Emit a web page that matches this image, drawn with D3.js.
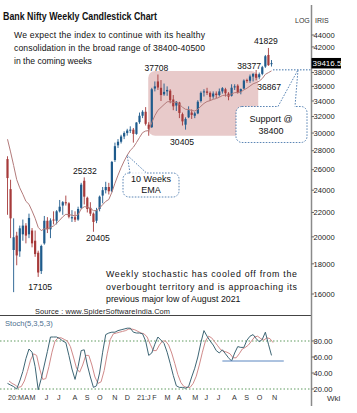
<!DOCTYPE html>
<html><head><meta charset="utf-8">
<script src="https://cdn.jsdelivr.net/npm/d3@7"></script>
<style>body{margin:0;background:#fff}svg{display:block;font-family:"Liberation Sans",Arial,sans-serif}</style>
</head><body>
<svg id="c" width="357" height="413"></svg>
<script>
// ---- data (weekly, Fridays from 13 Mar 2020 to 5 Nov 2021) ----
const openP = [27100,24100,19000,20100,18900,20200,20900,20200,20500,19700,18800,17500,19500,21300,20600,21400,21300,22100,22600,22900,22800,21500,21600,21400,22400,24900,23300,22400,21900,21300,22300,23500,24000,24300,23900,27000,28600,29000,29600,30000,30300,30400,29900,31300,32100,32600,31000,30700,35700,36700,35800,34900,35300,35400,34200,33400,33800,32300,31000,31900,32500,32100,32400,34000,35200,35300,35100,34600,35000,34800,35300,35600,35000,34700,35900,36100,35200,35700,36900,36800,37400,37800,37300,37800,38900,40700,39300];
const highP = [27400,25000,21500,20400,20900,21400,21100,21900,20700,20500,18950,19400,21700,21600,21500,22100,22200,23100,23000,23500,22900,22200,22100,22500,24700,25232,23400,22900,22000,22400,23500,24300,24800,24700,26900,28900,29300,29800,30200,30500,30800,30600,31300,32500,32800,33200,31300,35800,36700,37708,36900,36400,36000,35600,34800,34000,33900,32500,31900,33300,32900,32600,34100,35300,35600,35800,35300,35300,35300,35700,35900,35800,35200,36300,36300,36300,35700,37000,37100,37700,37900,38377,38000,39000,40700,41829,39900];
const lowP = [21800,19900,16116,17900,18500,19700,19500,19900,19200,18500,17105,17300,19400,20300,19900,21000,21000,22000,21800,22600,21500,21200,21200,21300,22300,22700,22000,21700,20405,21100,22100,22800,23700,23600,23800,26800,28300,28800,29300,29700,30000,28900,29800,31100,31800,30900,29687,30600,35300,35500,34000,34700,34700,33700,32800,32700,31800,30900,30405,31800,31700,31800,32300,33800,34600,34800,34000,34300,34400,34600,35000,34600,34100,34600,35500,35000,34900,35600,36500,36500,36700,36867,37000,37600,38700,39000,38900];
const closeP = [25166,21500,19970,18600,20680,20900,20100,21534,19500,18700,17400,19300,21300,20600,21330,21370,22100,22500,22900,22800,21640,21600,21390,22300,24523,23400,22300,21900,21200,22200,23400,24000,24300,23900,26800,28500,29000,29600,30000,30300,30400,29900,31260,32100,32600,31100,30500,35600,36000,35841,34800,35230,35500,34100,33300,33900,32450,31400,31700,32800,32200,32400,33900,35100,35300,35100,34560,35010,34800,35300,35750,35050,34580,35810,36000,35100,35620,36830,36770,37430,37800,37230,37750,38800,40500,39115,39416.5];
const stochK = [27,25,23,20,30,42,58,70,66,48,19,33,50,67,85,85,85,83,80,78,62,45,32,48,68,69,50,35,22,24,40,66,88,90,91,91,93,94,95,96,96,91,90,90,89,80,62,65,76,85,81,77,66,52,37,24,22,22,21,23,35,46,60,78,93,86,80,75,68,65,69,64,59,55,65,73,72,72,81,86,88,83,79,82,91,76,62];
const stochD = [30,27,25,22,23,30,42,56,64,62,45,32,33,48,66,80,84,84,82,80,73,60,46,41,50,62,62,50,35,27,29,43,64,82,89,90,91,92,93,95,95,94,92,90,89,85,76,68,68,75,80,80,75,65,52,38,28,23,22,22,27,36,50,66,80,86,84,79,74,69,67,66,64,59,59,64,70,72,75,80,85,86,83,81,84,83,78];
const priceTicks = [16000,18000,20000,22000,24000,26000,28000,30000,32000,34000,36000,38000,40000,42000,44000];
const stochTicks = [20,40,60,80];
const stochLevels = [20,80];
const emaSeed = 30200;           // 10-week EMA value before the first plotted week
const emaPeriod = 10;
const lastPrice = 39416.5;
const supportLevel = 38400;
const stochSupport = 55;
const zone = {fromWeek:46, toWeek:82, low:29687, high:38377};
const extremes = [
  {i:85, v:41829}, {i:49, v:37708}, {i:81, v:38377}, {i:81, v:36867},
  {i:58, v:30405}, {i:25, v:25232}, {i:28, v:20405}, {i:10, v:17105}
];
const titleText = "Bank Nifty Weekly Candlestick Chart";
const topNote = ["We expect the index to continue with its healthy","consolidation in the broad range of 38400-40500","in the coming weeks"];
const bottomNote = ["Weekly stochastic has cooled off from the","overbought territory and is approaching its","previous major low of August 2021"];
const sourceText = "Source : www.SpiderSoftwareIndia.Com";
const monthInitials = ["J","F","M","A","M","J","J","A","S","O","N","D"];

// ---- layout ----
const svg = d3.select("#c");
const axisX = 311.5;
const weeks = d3.timeFriday.range(new Date(2020,2,13), new Date(2021,10,6));
const x = d3.scaleTime().domain([weeks[0], weeks[weeks.length-1]]).range([7.5, 271.5]);
const xi = i => x(d3.timeWeek.offset(weeks[0], i));
const y = d3.scaleLog().domain([16000,44000]).range([294,35]);
const ys = d3.scaleLinear().domain([0,100]).range([405,325]);
const BLUE = "#1f5b8c", RED = "#a63a3a", EMA_C = "#b37b7b";
const data = weeks.map((d,i)=>({d,i,o:openP[i],h:highP[i],l:lowP[i],c:closeP[i],k:stochK[i],dd:stochD[i]}));
const alpha = 2/(emaPeriod+1);
let e = emaSeed;
data.forEach(p => { e = e + alpha*(p.c - e); p.ema = e; });

const defs = svg.append("defs");
defs.append("clipPath").attr("id","pc").append("rect").attr("x",0).attr("y",0).attr("width",axisX).attr("height",315);
defs.append("clipPath").attr("id","sc").append("rect").attr("x",0).attr("y",317).attr("width",axisX).attr("height",95);

// consolidation zone
svg.append("rect")
  .attr("x", xi(zone.fromWeek)-0.5).attr("y", y(zone.high)+1)
  .attr("width", xi(zone.toWeek)-xi(zone.fromWeek)-0.5)
  .attr("height", y(zone.low)-y(zone.high)-1)
  .attr("rx",7).attr("fill","#e8caca");

const price = svg.append("g").attr("clip-path","url(#pc)");
// candles
const cg = price.selectAll("g.cd").data(data).join("g").attr("class","cd")
  .attr("fill", p => p.c>=p.o ? BLUE : RED).attr("stroke", p => p.c>=p.o ? BLUE : RED);
cg.append("line").attr("x1",p=>x(p.d)).attr("x2",p=>x(p.d)).attr("y1",p=>y(p.h)).attr("y2",p=>y(p.l)).attr("stroke-width",0.9);
cg.append("rect").attr("x",p=>x(p.d)-1.1).attr("width",2.2)
  .attr("y",p=>Math.min(y(p.o),y(p.c))).attr("height",p=>Math.max(1,Math.abs(y(p.o)-y(p.c))))
  .attr("stroke","none");
// EMA
price.append("path").datum(data).attr("fill","none").attr("stroke",EMA_C).attr("stroke-width",1)
  .attr("d", d3.line().x(p=>x(p.d)).y(p=>y(p.ema)));

// support line
const supY = y(supportLevel);
svg.append("line").attr("x1", xi(86)+1.5).attr("x2", axisX).attr("y1", supY).attr("y2", supY)
  .attr("stroke","#3f72a8").attr("stroke-width",1).attr("stroke-dasharray","1.5,1.5");

// extreme labels
const lblOff = {
  "41829":[-2.5,-4,"middle"], "37708":[-1.5,-4,"middle"], "38377":[5,-0.7,"end"], "36867":[1,9.7,"start"],
  "30405":[-3.5,15.5,"middle"], "25232":[0.7,-3,"middle"], "20405":[4.5,9.5,"middle"], "17105":[2,13,"middle"]
};
svg.selectAll("text.ext").data(extremes).join("text").attr("class","ext")
  .each(function(p){ const o = lblOff[String(p.v)]; d3.select(this)
    .attr("x", xi(p.i)+o[0]).attr("y", y(p.v)+o[1]).attr("text-anchor",o[2]); })
  .attr("font-size","8.6px").attr("fill","#111").text(p=>String(p.v));

// title + notes
svg.append("text").attr("x",3).attr("y",19.5).attr("font-size","10.5px").attr("font-weight","bold")
  .attr("font-family","'Liberation Sans Narrow','Liberation Sans',Arial,sans-serif")
  .attr("textLength",154).attr("lengthAdjust","spacingAndGlyphs").attr("fill","#111").text(titleText);
const topBase=[38,51,63.5];
topNote.forEach((t,k)=>{ const el = svg.append("text").attr("x",14).attr("y",topBase[k]).attr("font-size","8.6px").attr("fill","#111").text(t);
  if(k<2) el.attr("textLength",191).attr("lengthAdjust","spacing"); });
const botBase=[276.5,289.5,301.5];
bottomNote.forEach((t,k)=>{ const el = svg.append("text").attr("x",106).attr("y",botBase[k]).attr("font-size","8.8px").attr("fill","#111").text(t);
  if(k<2) el.attr("textLength",191).attr("lengthAdjust","spacing"); });
svg.append("text").attr("x",35).attr("y",313.5).attr("font-size","7.4px").attr("fill","#222")
  .attr("textLength",135).attr("lengthAdjust","spacing").text(sourceText);

// callouts
function callout(bx,by,bw,bh,tip,p1,p2,lines,baselines,cx){
  const g = svg.append("g");
  g.append("rect").attr("x",bx).attr("y",by).attr("width",bw).attr("height",bh).attr("rx",6)
    .attr("fill","#fff").attr("stroke","#4a78ad").attr("stroke-width",0.9).attr("stroke-dasharray","1.6,1.4");
  g.append("line").attr("x1",p1).attr("y1",by).attr("x2",p2).attr("y2",by).attr("stroke","#fff").attr("stroke-width",1.6);
  g.append("path").attr("d",`M${p1},${by}L${tip[0]},${tip[1]}L${p2},${by}`).attr("fill","none")
    .attr("stroke","#4a78ad").attr("stroke-width",0.9).attr("stroke-dasharray","1.6,1.4");
  lines.forEach((t,k)=>g.append("text").attr("x",cx).attr("y",baselines[k]).attr("text-anchor","middle")
    .attr("font-size","9px").attr("fill","#111").text(t));
}
callout(123,173,56,24,[xi(39), y(data[39].ema)],130,146.5,["10 Weeks","EMA"],[181.7,193.3],151);
callout(236,106.5,71,36,[298,supY],278,295,["Support @",String(supportLevel)],[121.7,133.5],271);

// separator
svg.append("line").attr("x1",0).attr("x2",axisX).attr("y1",315.5).attr("y2",315.5).attr("stroke","#444").attr("stroke-width",1);

// stochastic panel
const st = svg.append("g").attr("clip-path","url(#sc)");
stochLevels.forEach(v=>st.append("line").attr("x1",0).attr("x2",axisX).attr("y1",ys(v)).attr("y2",ys(v))
  .attr("stroke","#5f9a5f").attr("stroke-width",1).attr("stroke-dasharray","1.5,2"));
st.append("path").datum(data).attr("fill","none").attr("stroke","#d08a8a").attr("stroke-width",1)
  .attr("d", d3.line().x(p=>x(p.d)+1.5).y(p=>ys(p.dd)));
st.append("path").datum(data).attr("fill","none").attr("stroke","#3e6675").attr("stroke-width",1)
  .attr("d", d3.line().x(p=>x(p.d)).y(p=>ys(p.k)));
st.append("line").attr("x1",xi(70)).attr("x2",xi(90.3)).attr("y1",ys(stochSupport)).attr("y2",ys(stochSupport))
  .attr("stroke","#5a86c0").attr("stroke-width",1);
svg.append("text").attr("x",5).attr("y",326).attr("font-size","7.6px").attr("fill","#4d6f8f").text("Stoch(5,3,5,3)");

// right axis
svg.append("line").attr("x1",axisX).attr("x2",axisX).attr("y1",5).attr("y2",406).attr("stroke","#8a8a8a").attr("stroke-width",1.5);
const ax = svg.append("g").attr("font-size","7.6px").attr("fill","#222");
const lpY = y(lastPrice);
priceTicks.forEach(v=>{
  ax.append("line").attr("x1",axisX).attr("x2",axisX+2.5).attr("y1",y(v)).attr("y2",y(v)).attr("stroke","#666");
  // the last-price tag hides any tick label lying under it
  if (Math.abs(y(v)-lpY) > 8) ax.append("text").attr("x",313.5).attr("y",y(v)+2.7).text(String(v));
});
stochTicks.forEach(v=>{
  ax.append("line").attr("x1",axisX).attr("x2",axisX+2.5).attr("y1",ys(v)).attr("y2",ys(v)).attr("stroke","#666");
  ax.append("text").attr("x",313.5).attr("y",ys(v)+2.7).text(v.toFixed(2));
});
svg.append("text").attr("x",295).attr("y",23).attr("font-size","7px").attr("fill","#333").text("LOG");
svg.append("text").attr("x",315).attr("y",23).attr("font-size","7px").attr("fill","#333").text("IRIS");
// last price box
svg.append("rect").attr("x",axisX).attr("y",lpY-5.2).attr("width",29.5).attr("height",10.5).attr("fill","#000");
svg.append("text").attr("x",axisX+1).attr("y",lpY+3).attr("font-size","8px").attr("fill","#fff").text(String(lastPrice));

// month labels
const mg = svg.append("g").attr("font-size","7.2px").attr("fill","#333");
let prevEnd = -Infinity;
data.forEach((p,i)=>{
  const m = p.d.getMonth();
  if(i===0 || m!==data[i-1].d.getMonth()){
    const pre = (i===0 || m===0) ? String(p.d.getFullYear()).slice(2)+":" : "";
    const sx = Math.max(x(p.d)+0.5, prevEnd+0.3);
    const t = mg.append("text").attr("x",sx).attr("y",400).text(pre+monthInitials[m]);
    prevEnd = sx + t.node().getComputedTextLength();
  }
});
svg.append("text").attr("x",327).attr("y",401).attr("font-size","8px").attr("fill","#333").text("Wkl");
</script>
</body></html>
